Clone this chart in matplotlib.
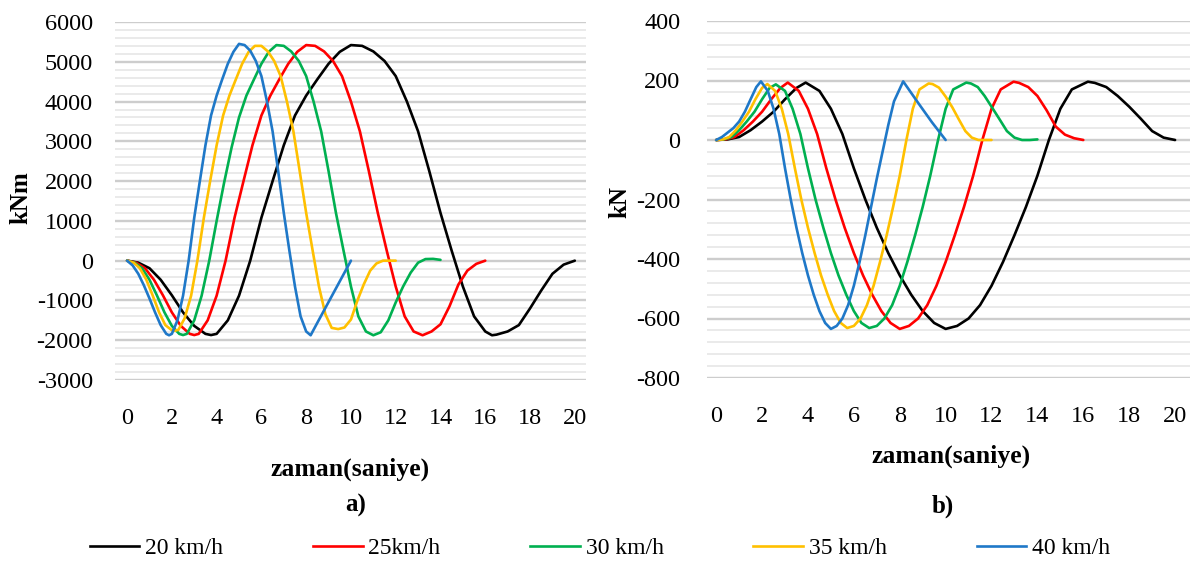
import matplotlib
matplotlib.use("Agg")
import matplotlib.pyplot as plt
from matplotlib.ticker import MultipleLocator
from matplotlib.lines import Line2D

plt.rcParams['font.family'] = ['Liberation Serif', 'DejaVu Serif']
plt.rcParams['axes.unicode_minus'] = False

series_labels = ["20 km/h", "25km/h", "30 km/h", "35 km/h", "40 km/h"]
series_colors = ["#000000", "#FF0000", "#00B050", "#FFC000", "#1F78C8"]

# ---------------- a) moment (kNm) ----------------
m20_t = [0, 0.5, 1, 1.5, 2, 2.5, 3, 3.5, 3.75, 4, 4.5, 5, 5.5, 6, 6.5, 7, 7.5, 8, 8.5, 9, 9.5, 10,
         10.5, 11, 11.5, 12, 12.5, 13, 13.5, 14, 14.5, 15, 15.5, 16, 16.3, 16.5, 17, 17.5, 18, 18.5, 19, 19.5, 20]
m20_v = [0, -50, -190, -480, -870, -1300, -1640, -1840, -1870, -1840, -1500, -880, 0, 1080, 2000, 2900, 3650, 4150, 4560, 4950, 5250, 5420,
         5400, 5260, 5020, 4640, 4000, 3250, 2250, 1200, 250, -650, -1400, -1780, -1875, -1860, -1780, -1620, -1200, -750, -330, -100, 0]

m25_t = [0, 0.4, 0.8, 1.2, 1.6, 2.0, 2.4, 2.8, 3.0, 3.2, 3.6, 4.0, 4.4, 4.8, 5.2, 5.6, 6.0, 6.4, 6.8, 7.2, 7.6, 8.0,
         8.4, 8.8, 9.2, 9.6, 10.0, 10.4, 10.8, 11.2, 11.6, 12.0, 12.4, 12.8, 13.2, 13.6, 14.0, 14.4, 14.8, 15.2, 15.6, 16.0]
m25_v = [0, -50, -190, -480, -870, -1300, -1640, -1840, -1870, -1840, -1500, -880, 0, 1080, 2000, 2900, 3650, 4150, 4560, 4950, 5250, 5420,
         5400, 5260, 5020, 4640, 4000, 3250, 2250, 1200, 250, -650, -1400, -1780, -1875, -1780, -1600, -1150, -600, -250, -80, 0]

m30_t = [0, 0.33, 0.67, 1.0, 1.33, 1.67, 2.0, 2.33, 2.5, 2.67, 3.0, 3.33, 3.67, 4.0, 4.33, 4.67, 5.0, 5.33, 5.67, 6.0, 6.33, 6.67,
         7.0, 7.33, 7.67, 8.0, 8.33, 8.67, 9.0, 9.33, 9.67, 10.0, 10.33, 10.67, 11.0, 11.33, 11.67, 12.0, 12.33, 12.67, 13.0, 13.33, 13.67, 14.0]
m30_v = [0, -50, -190, -480, -870, -1300, -1640, -1840, -1870, -1840, -1500, -880, 0, 1000, 1950, 2850, 3600, 4150, 4560, 4950, 5250, 5420,
         5400, 5260, 5020, 4640, 4000, 3250, 2250, 1200, 250, -650, -1400, -1780, -1875, -1800, -1500, -1050, -650, -300, -50, 40, 45, 20]

m35_t = [0, 0.29, 0.57, 0.86, 1.14, 1.43, 1.71, 2.0, 2.14, 2.29, 2.57, 2.86, 3.14, 3.43, 3.71, 4.0, 4.29, 4.57, 4.86, 5.14, 5.43, 5.71,
         6.0, 6.29, 6.57, 6.86, 7.14, 7.43, 7.71, 8.0, 8.29, 8.57, 8.86, 9.14, 9.43, 9.71, 10.0, 10.29, 10.57, 10.86, 11.14, 11.43, 12.0]
m35_v = [0, -50, -190, -480, -870, -1300, -1620, -1750, -1760, -1740, -1450, -880, 0, 1080, 2000, 2900, 3650, 4150, 4560, 4950, 5250, 5400,
         5400, 5260, 5020, 4640, 4000, 3250, 2250, 1200, 250, -650, -1350, -1690, -1720, -1680, -1480, -1000, -600, -250, -70, 0, 0]

m40_t = [0, 0.25, 0.5, 0.75, 1.0, 1.25, 1.5, 1.75, 1.875, 2.0, 2.25, 2.5, 2.75, 3.0, 3.25, 3.5, 3.75, 4.0, 4.25, 4.5, 4.75, 5.0,
         5.25, 5.5, 5.75, 6.0, 6.25, 6.5, 6.75, 7.0, 7.25, 7.5, 7.75, 8.0, 8.2, 8.5, 9.0, 9.5, 10.0]
m40_v = [0, -120, -330, -620, -950, -1300, -1620, -1840, -1875, -1840, -1500, -880, 0, 1080, 2000, 2900, 3650, 4150, 4560, 4950, 5250, 5450,
         5420, 5280, 5020, 4640, 4000, 3250, 2250, 1200, 250, -650, -1400, -1780, -1875, -1560, -1040, -520, 0]

# ---------------- b) shear (kN) ----------------
s20_t = [0, 0.5, 1, 1.5, 2, 2.5, 3, 3.5, 3.9, 4.5, 5, 5.5, 6, 6.5, 7, 7.5, 8, 8.5, 9, 9.5, 10, 10.5, 11, 11.5, 12, 12.5,
         13, 13.5, 14, 14.5, 15, 15.5, 16.2, 16.5, 17, 17.5, 18, 18.5, 19, 19.5, 20]
s20_v = [0, 2, 10, 33, 62, 95, 137, 175, 193, 165, 105, 20, -95, -200, -295, -380, -455, -520, -575, -615, -635, -625, -600, -555, -490, -410,
         -320, -225, -120, 0, 105, 170, 196, 192, 178, 148, 112, 72, 30, 8, 0]

s25_t = [0, 0.4, 0.8, 1.2, 1.6, 2.0, 2.4, 2.8, 3.12, 3.6, 4.0, 4.4, 4.8, 5.2, 5.6, 6.0, 6.4, 6.8, 7.2, 7.6, 8.0, 8.4, 8.8, 9.2, 9.6, 10.0,
         10.4, 10.8, 11.2, 11.6, 12.0, 12.4, 12.96, 13.2, 13.6, 14.0, 14.4, 14.8, 15.2, 15.6, 16.0]
s25_v = [0, 2, 10, 33, 62, 95, 137, 175, 193, 165, 105, 20, -95, -200, -295, -380, -455, -520, -575, -615, -635, -625, -600, -555, -490, -410,
         -320, -225, -120, 0, 105, 170, 196, 192, 178, 148, 100, 45, 18, 6, 0]

s30_t = [0, 0.33, 0.67, 1.0, 1.33, 1.67, 2.0, 2.33, 2.6, 3.0, 3.33, 3.67, 4.0, 4.33, 4.67, 5.0, 5.33, 5.67, 6.0, 6.33, 6.67, 7.0, 7.33,
         7.67, 8.0, 8.33, 8.67, 9.0, 9.33, 9.67, 10.0, 10.33, 10.9, 11.1, 11.4, 11.7, 12.0, 12.33, 12.67, 13.0, 13.33, 13.67, 14.0]
s30_v = [0, 2, 10, 33, 62, 95, 137, 175, 187, 165, 105, 20, -95, -200, -295, -380, -455, -520, -575, -615, -632, -625, -600,
         -555, -490, -410, -320, -225, -120, 0, 105, 170, 193, 190, 178, 148, 112, 72, 30, 8, 0, 0, 2]

s35_t = [0, 0.29, 0.57, 0.86, 1.14, 1.43, 1.71, 2.0, 2.23, 2.57, 2.86, 3.14, 3.43, 3.71, 4.0, 4.29, 4.57, 4.86, 5.14, 5.43, 5.71, 6.0,
         6.29, 6.57, 6.86, 7.14, 7.43, 7.71, 8.0, 8.29, 8.57, 8.86, 9.26, 9.43, 9.71, 10.0, 10.29, 10.57, 10.86, 11.14, 11.43, 12.0]
s35_v = [0, 2, 10, 33, 62, 95, 137, 175, 188, 165, 105, 20, -95, -200, -295, -380, -455, -520, -575, -615, -632, -625,
         -600, -555, -490, -410, -320, -225, -120, 0, 105, 170, 190, 188, 176, 146, 110, 70, 30, 8, 0, 0]

s40_t = [0, 0.25, 0.5, 0.75, 1.0, 1.25, 1.5, 1.75, 1.95, 2.25, 2.5, 2.75, 3.0, 3.25, 3.5, 3.75, 4.0, 4.25, 4.5, 4.75, 5.0, 5.25, 5.5,
         5.75, 6.0, 6.25, 6.5, 6.75, 7.0, 7.25, 7.5, 7.75, 8.15, 8.8, 9.4, 10.0]
s40_v = [0, 10, 25, 40, 62, 95, 137, 178, 197, 165, 105, 20, -95, -200, -295, -380, -455, -520, -575, -615, -635, -625, -600,
         -555, -490, -410, -320, -225, -130, -40, 50, 130, 197, 125, 60, 0]

x_ticks = [0, 2, 4, 6, 8, 10, 12, 14, 16, 18, 20]

moment_series = [(m20_t, m20_v), (m25_t, m25_v), (m30_t, m30_v), (m35_t, m35_v), (m40_t, m40_v)]
shear_series = [(s20_t, s20_v), (s25_t, s25_v), (s30_t, s30_v), (s35_t, s35_v), (s40_t, s40_v)]

W, H = 1195, 562
fig = plt.figure(figsize=(W / 100, H / 100), dpi=100)
fig.patch.set_facecolor("white")


def px_axes(x0, x1, y0, y1):
    return fig.add_axes([x0 / W, 1 - y1 / H, (x1 - x0) / W, (y1 - y0) / H])


axA = px_axes(115, 586, 22, 380)
axB = px_axes(707, 1190, 21, 378)

TICK_FS = 17.5
for ax, data, ylim, major, minor, xlim, ypad in [
        (axA, moment_series, (-3000, 6000), 1000, 200, (-0.54, 20.5), 16),
        (axB, shear_series, (-800, 400), 200, 40, (-0.4, 20.65), 19)]:
    for (t, v), c in zip(data, series_colors):
        ax.plot(t, v, color=c, lw=1.9, solid_joinstyle='round', solid_capstyle='round', zorder=3)
    ax.set_xlim(*xlim)
    ax.set_ylim(*ylim)
    ax.set_xticks(x_ticks)
    ax.yaxis.set_major_locator(MultipleLocator(major))
    ax.yaxis.set_minor_locator(MultipleLocator(minor))
    ax.grid(axis='y', which='major', color='#cdcdcd', lw=1.7, zorder=1)
    ax.grid(axis='y', which='minor', color='#e8e8e8', lw=1.3, zorder=0)
    ax.set_axisbelow(True)
    for s in ax.spines.values():
        s.set_visible(False)
    ax.tick_params(axis='both', which='both', length=0, labelsize=TICK_FS)
    ax.tick_params(axis='y', pad=ypad)
    ax.tick_params(axis='x', pad=20)

fig.text(21 / W, 1 - 198 / H, "kNm", rotation=90, fontsize=18, fontweight='bold', ha='center', va='center')
fig.text(620 / W, 1 - 202 / H, "kN", rotation=90, fontsize=18, fontweight='bold', ha='center', va='center')
fig.text(350 / W, 1 - 469 / H, "zaman(saniye)", fontsize=18.5, fontweight='bold', ha='center', va='center')
fig.text(951 / W, 1 - 456 / H, "zaman(saniye)", fontsize=18.5, fontweight='bold', ha='center', va='center')
fig.text(356 / W, 1 - 505 / H, "a)", fontsize=18, fontweight='bold', ha='center', va='center')
fig.text(943 / W, 1 - 506 / H, "b)", fontsize=18, fontweight='bold', ha='center', va='center')

handles = [Line2D([], [], color=c, lw=1.9) for c in series_colors]
fig.legend(handles, series_labels, loc='center', bbox_to_anchor=(600 / W, 1 - 548 / H), ncol=5,
           frameon=False, fontsize=17, handlelength=2.1, handletextpad=0.25, columnspacing=3.8)

fig.savefig("out.png", dpi=100, facecolor="white")
